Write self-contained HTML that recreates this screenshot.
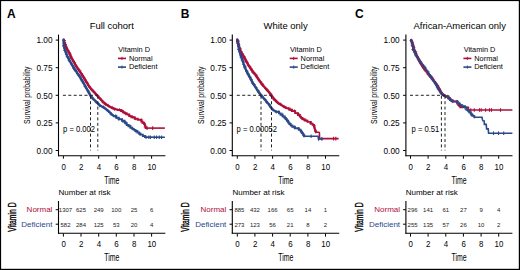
<!DOCTYPE html>
<html><head><meta charset="utf-8"><title>KM</title>
<style>html,body{margin:0;padding:0;background:#fff;width:520px;height:270px;overflow:hidden}
svg text{font-family:"Liberation Sans", sans-serif}</style></head>
<body>
<svg width="520" height="270" viewBox="0 0 520 270" style="display:block">
<rect x="0" y="0" width="520" height="270" fill="#fff"/>
<text x="7.0" y="18.0" font-size="12" font-weight="bold" fill="#000">A</text>
<text transform="translate(111.7,29.3) scale(0.965,1)" font-size="9.8" text-anchor="middle" fill="#000">Full cohort</text>
<line x1="58.5" y1="34.6" x2="58.5" y2="156.2" stroke="#000" stroke-width="1.1"/>
<line x1="58.0" y1="155.7" x2="165.4" y2="155.7" stroke="#000" stroke-width="1.1"/>
<line x1="55.7" y1="40.1" x2="58.5" y2="40.1" stroke="#000" stroke-width="1"/>
<text transform="translate(52.5,43.30) scale(0.92,1)" font-size="9" text-anchor="end" fill="#000">1.00</text>
<line x1="55.7" y1="67.7" x2="58.5" y2="67.7" stroke="#000" stroke-width="1"/>
<text transform="translate(52.5,70.90) scale(0.92,1)" font-size="9" text-anchor="end" fill="#000">0.75</text>
<line x1="55.7" y1="95.3" x2="58.5" y2="95.3" stroke="#000" stroke-width="1"/>
<text transform="translate(52.5,98.50) scale(0.92,1)" font-size="9" text-anchor="end" fill="#000">0.50</text>
<line x1="55.7" y1="122.9" x2="58.5" y2="122.9" stroke="#000" stroke-width="1"/>
<text transform="translate(52.5,126.10) scale(0.92,1)" font-size="9" text-anchor="end" fill="#000">0.25</text>
<line x1="55.7" y1="150.5" x2="58.5" y2="150.5" stroke="#000" stroke-width="1"/>
<text transform="translate(52.5,153.70) scale(0.92,1)" font-size="9" text-anchor="end" fill="#000">0.00</text>
<line x1="63.4" y1="156" x2="63.4" y2="158.7" stroke="#000" stroke-width="1"/>
<text transform="translate(63.6,169.6) scale(0.88,1)" font-size="9" text-anchor="middle" fill="#000">0</text>
<line x1="81.0" y1="156" x2="81.0" y2="158.7" stroke="#000" stroke-width="1"/>
<text transform="translate(81.2,169.6) scale(0.88,1)" font-size="9" text-anchor="middle" fill="#000">2</text>
<line x1="98.7" y1="156" x2="98.7" y2="158.7" stroke="#000" stroke-width="1"/>
<text transform="translate(98.9,169.6) scale(0.88,1)" font-size="9" text-anchor="middle" fill="#000">4</text>
<line x1="116.3" y1="156" x2="116.3" y2="158.7" stroke="#000" stroke-width="1"/>
<text transform="translate(116.5,169.6) scale(0.88,1)" font-size="9" text-anchor="middle" fill="#000">6</text>
<line x1="134.0" y1="156" x2="134.0" y2="158.7" stroke="#000" stroke-width="1"/>
<text transform="translate(134.2,169.6) scale(0.88,1)" font-size="9" text-anchor="middle" fill="#000">8</text>
<line x1="151.6" y1="156" x2="151.6" y2="158.7" stroke="#000" stroke-width="1"/>
<text transform="translate(151.8,169.6) scale(0.88,1)" font-size="9" text-anchor="middle" fill="#000">10</text>
<text transform="translate(111.9,183.6) scale(0.68,1)" font-size="10.2" text-anchor="middle" fill="#000">Time</text>
<text transform="translate(30.3,95.20) rotate(-90) scale(0.77,1)" font-size="8.9" text-anchor="middle" fill="#000">Survival probability</text>
<text x="118.3" y="51.6" font-size="7.35" fill="#000">Vitamin D</text>
<line x1="118.0" y1="58.4" x2="126.0" y2="58.4" stroke="#AD0F3A" stroke-width="1.6"/>
<line x1="122.0" y1="56.8" x2="122.0" y2="60" stroke="#AD0F3A" stroke-width="0.9"/>
<text x="128.9" y="60.6" font-size="7.35" fill="#000">Normal</text>
<line x1="118.0" y1="67.1" x2="126.0" y2="67.1" stroke="#2A4989" stroke-width="1.6"/>
<line x1="122.0" y1="65.5" x2="122.0" y2="68.7" stroke="#2A4989" stroke-width="0.9"/>
<text x="128.9" y="69.2" font-size="7.35" fill="#000">Deficient</text>
<text transform="translate(63.1,131.7) scale(0.93,1)" font-size="8.2" fill="#000">p = 0.002</text>
<polyline points="63.6,39.8 63.9,40.5 64.2,41.6 64.6,42.8 65.1,44.1 65.6,45.5 66.2,46.9 66.8,48.3 67.5,49.8 68.3,51.3 69.1,52.8 69.9,54.4 70.7,56.0 71.5,57.6 72.4,59.3 73.3,60.9 74.2,62.6 75.2,64.3 76.2,66.0 77.3,67.7 78.4,69.3 79.5,71.0 80.6,72.6 81.8,74.3 82.9,76.0 84.0,77.8 85.0,79.6 86.0,81.4 87.1,83.2 88.2,84.9 89.3,86.6 90.6,88.2 92.0,89.9 93.4,91.4 94.8,92.9 96.0,94.2 97.1,95.4 97.9,96.3 98.5,97.0 99.0,97.6 99.5,98.1 100.0,98.6 100.5,99.2 101.1,99.8 101.7,100.5 102.4,101.1 103.0,101.8 103.7,102.4 104.4,103.0 105.1,103.6 105.9,104.1 106.6,104.7 107.4,105.2 108.1,105.7 108.9,106.2 109.6,106.6 110.4,107.0 111.1,107.4 111.8,107.8 112.6,108.1 113.3,108.4 114.1,108.7 114.9,108.9 115.7,109.2 116.4,109.4 117.2,109.6 117.8,109.8" fill="none" stroke="#AD0F3A" stroke-width="2.4" stroke-linejoin="round" stroke-linecap="round"/>
<polyline points="118.3,110.0 121.0,110.0 121.0,111.0 122.8,111.0 122.8,112.2 124.5,112.2 124.5,113.2 126.7,113.2 126.7,114.4 129.3,114.4 129.3,116.1 131.3,116.1 131.3,117.3 134.7,117.3 134.7,118.8 137.7,118.8 137.7,119.8 141.3,119.8 141.3,121.6 142.4,121.6 142.4,122.8 144.1,122.8 144.1,124.0 144.8,124.0 144.8,125.3 145.2,125.3 145.2,126.4 145.7,126.4 145.7,127.9 145.8,127.9 145.8,128.1" fill="none" stroke="#AD0F3A" stroke-width="1.9" stroke-linejoin="miter" stroke-linecap="square"/>
<polyline points="145.8,128.1 164.9,128.1" fill="none" stroke="#AD0F3A" stroke-width="1.6"/>
<polyline points="63.6,39.8 63.6,40.5 63.7,41.6 63.7,42.8 63.8,44.1 63.9,45.5 64.2,46.9 64.5,48.3 65.0,49.8 65.5,51.3 66.0,52.8 66.6,54.4 67.3,56.0 68.0,57.6 68.9,59.3 69.7,60.9 70.7,62.6 71.6,64.3 72.6,66.0 73.6,67.7 74.7,69.3 75.9,71.0 77.0,72.7 78.1,74.3 79.2,76.0 80.2,77.7 81.3,79.4 82.3,81.0 83.3,82.7 84.3,84.4 85.2,86.0 86.1,87.6 86.9,89.3 87.8,90.9 88.6,92.4 89.5,94.0 90.4,95.4 91.5,96.8 92.7,98.2 93.9,99.5 95.1,100.7 96.2,101.8 97.1,102.7 97.8,103.4 98.3,103.9 98.7,104.3 99.1,104.6 99.5,104.9 100.0,105.3 100.6,105.7 101.4,106.2 102.1,106.6 102.9,107.0 103.6,107.5 104.4,108.0 105.1,108.5 105.9,109.1 106.7,109.7 107.4,110.3 108.2,111.0 108.9,111.6 109.6,112.3 110.4,112.9 111.1,113.6 111.8,114.3 112.6,115.0 113.3,115.6" fill="none" stroke="#2A4989" stroke-width="2.4" stroke-linejoin="round" stroke-linecap="round"/>
<polyline points="114.0,116.2 116.2,116.2 116.2,117.7 118.8,117.7 118.8,119.2 122.1,119.2 122.1,120.8 124.6,120.8 124.6,122.3 125.4,122.3 125.4,123.3 126.7,123.3 126.7,125.0 128.4,125.0 128.4,126.3 130.4,126.3 130.4,127.7 132.2,127.7 132.2,128.9 133.7,128.9 133.7,129.9 135.5,129.9 135.5,131.0 137.4,131.0 137.4,132.5 139.2,132.5 139.2,133.8 140.4,133.8 140.4,134.6 142.8,134.6 142.8,136.0 144.9,136.0 144.9,137.0" fill="none" stroke="#2A4989" stroke-width="1.9" stroke-linejoin="miter" stroke-linecap="square"/>
<polyline points="144.9,137.1 164.9,137.3" fill="none" stroke="#2A4989" stroke-width="1.6"/>
<path d="M62.7 40.6h3.2M64.3 39.0v3.2M63.0 43.0h3.2M64.6 41.4v3.2M63.8 44.6h3.2M65.4 43.0v3.2M64.1 46.2h3.2M65.7 44.6v3.2M65.0 48.1h3.2M66.6 46.5v3.2M66.4 50.5h3.2M68.0 48.9v3.2M67.6 52.7h3.2M69.2 51.1v3.2M68.5 54.1h3.2M70.1 52.5v3.2M69.0 56.4h3.2M70.6 54.8v3.2M70.0 58.5h3.2M71.6 56.9v3.2M71.7 61.3h3.2M73.3 59.7v3.2M72.9 62.6h3.2M74.5 61.0v3.2M73.9 65.0h3.2M75.5 63.4v3.2M74.6 66.7h3.2M76.2 65.1v3.2M76.7 69.1h3.2M78.3 67.5v3.2M78.3 70.9h3.2M79.9 69.3v3.2M79.9 73.8h3.2M81.5 72.2v3.2M80.7 75.8h3.2M82.3 74.2v3.2M82.5 78.1h3.2M84.1 76.5v3.2M83.6 80.0h3.2M85.2 78.4v3.2M85.2 82.3h3.2M86.8 80.7v3.2M85.9 83.4h3.2M87.5 81.8v3.2M86.8 85.5h3.2M88.4 83.9v3.2M88.1 87.2h3.2M89.7 85.6v3.2M90.2 89.7h3.2M91.8 88.1v3.2M92.7 92.3h3.2M94.3 90.7v3.2M94.5 94.4h3.2M96.1 92.8v3.2M96.4 96.1h3.2M98.0 94.5v3.2M99.0 99.1h3.2M100.6 97.5v3.2M101.3 102.1h3.2M102.9 100.5v3.2M103.8 104.4h3.2M105.4 102.8v3.2M106.7 105.5h3.2M108.3 103.9v3.2M110.7 107.5h3.2M112.3 105.9v3.2M112.9 109.2h3.2M114.5 107.6v3.2M117.8 109.7h3.2M119.4 108.1v3.2M120.9 111.1h3.2M122.5 109.5v3.2M124.0 113.5h3.2M125.6 111.9v3.2M127.4 115.3h3.2M129.0 113.7v3.2M130.8 116.8h3.2M132.4 115.2v3.2M133.7 118.6h3.2M135.3 117.0v3.2M140.0 120.1h3.2M141.6 118.5v3.2M142.0 123.1h3.2M143.6 121.5v3.2M143.7 127.1h3.2M145.3 125.5v3.2" stroke="#AD0F3A" stroke-width="0.8" fill="none"/>
<line x1="147.1" y1="126.3" x2="147.1" y2="129.9" stroke="#AD0F3A" stroke-width="1.1"/>
<line x1="152.7" y1="126.3" x2="152.7" y2="129.9" stroke="#AD0F3A" stroke-width="1.1"/>
<path d="M62.5 40.5h3.2M64.1 38.9v3.2M62.5 42.9h3.2M64.1 41.3v3.2M62.2 45.4h3.2M63.8 43.8v3.2M62.3 46.7h3.2M63.9 45.1v3.2M63.3 48.4h3.2M64.9 46.8v3.2M63.1 50.4h3.2M64.7 48.8v3.2M64.7 52.8h3.2M66.3 51.2v3.2M64.9 54.5h3.2M66.5 52.9v3.2M65.6 56.8h3.2M67.2 55.2v3.2M67.5 58.3h3.2M69.1 56.7v3.2M67.5 60.2h3.2M69.1 58.6v3.2M68.0 60.7h3.2M69.6 59.1v3.2M70.0 63.9h3.2M71.6 62.3v3.2M71.0 65.4h3.2M72.6 63.8v3.2M72.0 67.1h3.2M73.6 65.5v3.2M72.2 68.2h3.2M73.8 66.6v3.2M73.3 69.9h3.2M74.9 68.3v3.2M74.9 71.3h3.2M76.5 69.7v3.2M75.8 73.6h3.2M77.4 72.0v3.2M77.2 75.0h3.2M78.8 73.4v3.2M78.0 76.0h3.2M79.6 74.4v3.2M79.1 77.4h3.2M80.7 75.8v3.2M79.8 79.6h3.2M81.4 78.0v3.2M80.6 80.9h3.2M82.2 79.3v3.2M81.8 83.0h3.2M83.4 81.4v3.2M83.3 86.2h3.2M84.9 84.6v3.2M84.9 88.5h3.2M86.5 86.9v3.2M86.9 91.0h3.2M88.5 89.4v3.2M87.9 93.0h3.2M89.5 91.4v3.2M89.2 95.8h3.2M90.8 94.2v3.2M90.2 97.2h3.2M91.8 95.6v3.2M91.5 99.1h3.2M93.1 97.5v3.2M94.4 101.8h3.2M96.0 100.2v3.2M96.3 103.4h3.2M97.9 101.8v3.2M97.9 105.6h3.2M99.5 104.0v3.2M102.0 107.0h3.2M103.6 105.4v3.2M104.9 109.5h3.2M106.5 107.9v3.2M107.0 111.3h3.2M108.6 109.7v3.2M109.4 114.1h3.2M111.0 112.5v3.2M114.1 115.7h3.2M115.7 114.1v3.2M114.9 117.3h3.2M116.5 115.7v3.2M117.2 119.0h3.2M118.8 117.4v3.2M121.0 121.0h3.2M122.6 119.4v3.2M122.8 121.9h3.2M124.4 120.3v3.2M124.3 122.9h3.2M125.9 121.3v3.2M128.2 125.8h3.2M129.8 124.2v3.2M131.1 128.5h3.2M132.7 126.9v3.2M134.4 131.5h3.2M136.0 129.9v3.2M138.6 134.1h3.2M140.2 132.5v3.2" stroke="#2A4989" stroke-width="0.8" fill="none"/>
<line x1="146" y1="135.5" x2="146" y2="139.1" stroke="#2A4989" stroke-width="1.1"/>
<line x1="148.8" y1="135.5" x2="148.8" y2="139.1" stroke="#2A4989" stroke-width="1.1"/>
<line x1="150.4" y1="135.5" x2="150.4" y2="139.1" stroke="#2A4989" stroke-width="1.1"/>
<line x1="154.3" y1="135.5" x2="154.3" y2="139.1" stroke="#2A4989" stroke-width="1.1"/>
<line x1="156.6" y1="135.5" x2="156.6" y2="139.1" stroke="#2A4989" stroke-width="1.1"/>
<line x1="159.3" y1="135.5" x2="159.3" y2="139.1" stroke="#2A4989" stroke-width="1.1"/>
<line x1="161.6" y1="135.5" x2="161.6" y2="139.1" stroke="#2A4989" stroke-width="1.1"/>
<g stroke="#222" stroke-width="1" stroke-dasharray="3,2.4" fill="none">
<line x1="62.9" y1="95.3" x2="97.8" y2="95.3"/>
<line x1="90.5" y1="95.8" x2="90.5" y2="150.5"/>
<line x1="97.8" y1="95.8" x2="97.8" y2="150.5"/>
</g>
<text x="58.6" y="195.2" font-size="8" fill="#000">Number at risk</text>
<text transform="translate(15.5,217.1) rotate(-90) scale(0.68,1)" font-size="10" text-anchor="middle" fill="#000" stroke="#000" stroke-width="0.35">Vitamin D</text>
<text x="52.4" y="212.1" font-size="8" text-anchor="end" fill="#AD0F3A">Normal</text>
<text x="52.4" y="226.9" font-size="8" text-anchor="end" fill="#2A4989">Deficient</text>
<line x1="58.5" y1="201" x2="58.5" y2="233.8" stroke="#000" stroke-width="1.1"/>
<line x1="58.0" y1="233.3" x2="165.3" y2="233.3" stroke="#000" stroke-width="1.1"/>
<line x1="55.7" y1="209.7" x2="58.5" y2="209.7" stroke="#000" stroke-width="1"/>
<line x1="55.7" y1="224.2" x2="58.5" y2="224.2" stroke="#000" stroke-width="1"/>
<line x1="63.4" y1="233.5" x2="63.4" y2="236.6" stroke="#000" stroke-width="1"/>
<text transform="translate(63.6,247.1) scale(0.88,1)" font-size="9" text-anchor="middle" fill="#000">0</text>
<text x="65.5" y="211.6" font-size="6" text-anchor="middle" fill="#222">1307</text>
<text x="65.5" y="226.6" font-size="6" text-anchor="middle" fill="#222">582</text>
<line x1="81.0" y1="233.5" x2="81.0" y2="236.6" stroke="#000" stroke-width="1"/>
<text transform="translate(81.2,247.1) scale(0.88,1)" font-size="9" text-anchor="middle" fill="#000">2</text>
<text x="81.0" y="211.6" font-size="6" text-anchor="middle" fill="#222">625</text>
<text x="81.0" y="226.6" font-size="6" text-anchor="middle" fill="#222">284</text>
<line x1="98.7" y1="233.5" x2="98.7" y2="236.6" stroke="#000" stroke-width="1"/>
<text transform="translate(98.9,247.1) scale(0.88,1)" font-size="9" text-anchor="middle" fill="#000">4</text>
<text x="98.7" y="211.6" font-size="6" text-anchor="middle" fill="#222">249</text>
<text x="98.7" y="226.6" font-size="6" text-anchor="middle" fill="#222">125</text>
<line x1="116.3" y1="233.5" x2="116.3" y2="236.6" stroke="#000" stroke-width="1"/>
<text transform="translate(116.5,247.1) scale(0.88,1)" font-size="9" text-anchor="middle" fill="#000">6</text>
<text x="116.3" y="211.6" font-size="6" text-anchor="middle" fill="#222">100</text>
<text x="116.3" y="226.6" font-size="6" text-anchor="middle" fill="#222">53</text>
<line x1="134.0" y1="233.5" x2="134.0" y2="236.6" stroke="#000" stroke-width="1"/>
<text transform="translate(134.2,247.1) scale(0.88,1)" font-size="9" text-anchor="middle" fill="#000">8</text>
<text x="134.0" y="211.6" font-size="6" text-anchor="middle" fill="#222">25</text>
<text x="134.0" y="226.6" font-size="6" text-anchor="middle" fill="#222">20</text>
<line x1="151.6" y1="233.5" x2="151.6" y2="236.6" stroke="#000" stroke-width="1"/>
<text transform="translate(151.8,247.1) scale(0.88,1)" font-size="9" text-anchor="middle" fill="#000">10</text>
<text x="151.6" y="211.6" font-size="6" text-anchor="middle" fill="#222">6</text>
<text x="151.6" y="226.6" font-size="6" text-anchor="middle" fill="#222">4</text>
<text transform="translate(111.9,260.5) scale(0.68,1)" font-size="10.2" text-anchor="middle" fill="#000">Time</text>
<text x="180.7" y="18.0" font-size="12" font-weight="bold" fill="#000">B</text>
<text transform="translate(285.6,29.3) scale(0.965,1)" font-size="9.8" text-anchor="middle" fill="#000">White only</text>
<line x1="232.3" y1="34.6" x2="232.3" y2="156.2" stroke="#000" stroke-width="1.1"/>
<line x1="231.8" y1="155.7" x2="339.3" y2="155.7" stroke="#000" stroke-width="1.1"/>
<line x1="229.5" y1="40.1" x2="232.3" y2="40.1" stroke="#000" stroke-width="1"/>
<text transform="translate(226.4,43.30) scale(0.92,1)" font-size="9" text-anchor="end" fill="#000">1.00</text>
<line x1="229.5" y1="67.7" x2="232.3" y2="67.7" stroke="#000" stroke-width="1"/>
<text transform="translate(226.4,70.90) scale(0.92,1)" font-size="9" text-anchor="end" fill="#000">0.75</text>
<line x1="229.5" y1="95.3" x2="232.3" y2="95.3" stroke="#000" stroke-width="1"/>
<text transform="translate(226.4,98.50) scale(0.92,1)" font-size="9" text-anchor="end" fill="#000">0.50</text>
<line x1="229.5" y1="122.9" x2="232.3" y2="122.9" stroke="#000" stroke-width="1"/>
<text transform="translate(226.4,126.10) scale(0.92,1)" font-size="9" text-anchor="end" fill="#000">0.25</text>
<line x1="229.5" y1="150.5" x2="232.3" y2="150.5" stroke="#000" stroke-width="1"/>
<text transform="translate(226.4,153.70) scale(0.92,1)" font-size="9" text-anchor="end" fill="#000">0.00</text>
<line x1="237.3" y1="156" x2="237.3" y2="158.7" stroke="#000" stroke-width="1"/>
<text transform="translate(237.5,169.6) scale(0.88,1)" font-size="9" text-anchor="middle" fill="#000">0</text>
<line x1="254.9" y1="156" x2="254.9" y2="158.7" stroke="#000" stroke-width="1"/>
<text transform="translate(255.1,169.6) scale(0.88,1)" font-size="9" text-anchor="middle" fill="#000">2</text>
<line x1="272.6" y1="156" x2="272.6" y2="158.7" stroke="#000" stroke-width="1"/>
<text transform="translate(272.8,169.6) scale(0.88,1)" font-size="9" text-anchor="middle" fill="#000">4</text>
<line x1="290.2" y1="156" x2="290.2" y2="158.7" stroke="#000" stroke-width="1"/>
<text transform="translate(290.4,169.6) scale(0.88,1)" font-size="9" text-anchor="middle" fill="#000">6</text>
<line x1="307.9" y1="156" x2="307.9" y2="158.7" stroke="#000" stroke-width="1"/>
<text transform="translate(308.1,169.6) scale(0.88,1)" font-size="9" text-anchor="middle" fill="#000">8</text>
<line x1="325.5" y1="156" x2="325.5" y2="158.7" stroke="#000" stroke-width="1"/>
<text transform="translate(325.7,169.6) scale(0.88,1)" font-size="9" text-anchor="middle" fill="#000">10</text>
<text transform="translate(285.8,183.6) scale(0.68,1)" font-size="10.2" text-anchor="middle" fill="#000">Time</text>
<text transform="translate(204.2,95.20) rotate(-90) scale(0.77,1)" font-size="8.9" text-anchor="middle" fill="#000">Survival probability</text>
<text x="290.0" y="51.6" font-size="7.35" fill="#000">Vitamin D</text>
<line x1="289.7" y1="58.4" x2="297.7" y2="58.4" stroke="#AD0F3A" stroke-width="1.6"/>
<line x1="293.7" y1="56.8" x2="293.7" y2="60" stroke="#AD0F3A" stroke-width="0.9"/>
<text x="300.6" y="60.6" font-size="7.35" fill="#000">Normal</text>
<line x1="289.7" y1="67.1" x2="297.7" y2="67.1" stroke="#2A4989" stroke-width="1.6"/>
<line x1="293.7" y1="65.5" x2="293.7" y2="68.7" stroke="#2A4989" stroke-width="0.9"/>
<text x="300.6" y="69.2" font-size="7.35" fill="#000">Deficient</text>
<text transform="translate(236.6,131.7) scale(0.93,1)" font-size="8.2" fill="#000">p = 0.00052</text>
<polyline points="237.3,39.7 237.4,40.2 237.5,40.9 237.7,41.8 237.9,42.7 238.1,43.7 238.4,44.7 238.7,45.7 239.0,46.8 239.4,47.9 239.8,49.0 240.2,50.2 240.7,51.3 241.3,52.4 241.9,53.5 242.6,54.7 243.3,55.8 244.0,56.9 244.6,58.0 245.2,59.1 245.8,60.2 246.3,61.3 246.9,62.4 247.5,63.4 248.1,64.5 248.7,65.5 249.4,66.6 250.1,67.6 250.7,68.6 251.5,69.6 252.2,70.7 253.0,71.8 253.8,72.9 254.7,74.0 255.5,75.1 256.4,76.2 257.2,77.3 258.0,78.4 258.7,79.5 259.4,80.7 260.1,81.8 260.9,82.9 261.7,84.0 262.6,85.1 263.6,86.2 264.6,87.3 265.6,88.4 266.6,89.4 267.5,90.4 268.3,91.3 269.0,92.2 269.6,93.1 270.3,93.9 270.9,94.7 271.6,95.6 272.3,96.5 273.0,97.5 273.8,98.5 274.5,99.4 275.3,100.3 276.0,101.1 276.7,101.8 277.4,102.4 278.1,102.9 278.8,103.4 279.6,103.9 280.4,104.4 281.2,105.0 282.1,105.5 283.0,106.1 284.0,106.6 285.0,107.2 286.0,107.8" fill="none" stroke="#AD0F3A" stroke-width="2.4" stroke-linejoin="round" stroke-linecap="round"/>
<polyline points="286.0,107.8 287.1,108.4 289.6,108.4 289.6,109.8 292.0,109.8 292.0,111.1 295.2,111.1 295.2,113.1 298.0,113.1 298.0,115.0 299.8,115.0 299.8,116.6 300.9,116.6 300.9,117.9 302.4,117.9 302.4,119.1 304.7,119.1 304.7,120.6 307.5,120.6 307.5,121.9 310.8,121.9 310.8,123.6 312.6,123.6 312.6,124.9 313.9,124.9 313.9,126.6 314.4,126.6 314.4,128.3 314.9,128.3 314.9,129.9 315.3,129.9 315.3,131.0 315.8,131.0 315.8,132.2" fill="none" stroke="#AD0F3A" stroke-width="1.9" stroke-linejoin="miter" stroke-linecap="square"/>
<polyline points="315.8,132.2 318.9,132.2 319.4,132.8 319.6,138.6 338.6,138.6" fill="none" stroke="#AD0F3A" stroke-width="1.6"/>
<polyline points="237.3,39.7 237.5,41.0 237.9,42.9 238.3,45.1 238.7,47.4 239.1,49.5 239.5,51.3 239.9,52.7 240.3,53.9 240.7,55.0 241.0,55.9 241.4,56.9 241.8,58.0 242.2,59.1 242.5,60.3 242.9,61.4 243.3,62.5 243.6,63.6 244.0,64.7 244.4,65.8 244.8,66.9 245.2,67.9 245.6,68.9 246.0,69.9 246.3,70.7 246.6,71.4 246.9,72.0 247.1,72.4 247.4,72.9 247.7,73.4 248.0,74.0 248.4,74.7 248.7,75.4 249.1,76.1 249.5,76.9 250.0,77.7 250.4,78.5 250.8,79.3 251.3,80.2 251.8,81.1 252.3,82.0 252.8,83.0 253.4,84.0 254.1,85.1 254.8,86.2 255.6,87.4 256.4,88.6 257.1,89.7 257.8,90.7 258.4,91.6 258.9,92.3 259.4,93.0 259.9,93.8 260.5,94.5 261.2,95.4 262.0,96.4 263.0,97.5 264.0,98.6 265.1,99.8 266.1,101.0 267.1,102.2 268.1,103.4 269.0,104.7 269.9,106.0 270.9,107.3 271.8,108.4 272.7,109.4 273.6,110.2 274.6,110.8 275.5,111.3" fill="none" stroke="#2A4989" stroke-width="2.4" stroke-linejoin="round" stroke-linecap="round"/>
<polyline points="276.5,111.8 279.0,111.8 279.0,113.4 280.5,113.4 280.5,114.7 282.5,114.7 282.5,116.4 284.8,116.4 284.8,117.9 285.8,117.9 285.8,119.1 286.9,119.1 286.9,120.8 288.1,120.8 288.1,122.6 289.4,122.6 289.4,124.1 290.8,124.1 290.8,125.5 292.3,125.5 292.3,126.8 294.9,126.8 294.9,128.2 298.8,128.2 298.8,129.8 300.6,129.8 300.6,131.0 301.3,131.0 301.3,132.2 302.1,132.2 302.1,133.4 303.1,133.4 303.1,134.8 303.9,134.8 303.9,136.0 304.1,136.0 304.1,136.2" fill="none" stroke="#2A4989" stroke-width="1.9" stroke-linejoin="miter" stroke-linecap="square"/>
<polyline points="304.1,136.3 318.1,136.3 318.4,138.9 323.0,138.9" fill="none" stroke="#2A4989" stroke-width="1.6"/>
<path d="M235.9 41.2h3.2M237.5 39.6v3.2M236.5 41.7h3.2M238.1 40.1v3.2M236.5 43.5h3.2M238.1 41.9v3.2M236.9 45.5h3.2M238.5 43.9v3.2M238.1 48.3h3.2M239.7 46.7v3.2M238.8 49.1h3.2M240.4 47.5v3.2M239.4 51.6h3.2M241.0 50.0v3.2M240.6 53.5h3.2M242.2 51.9v3.2M241.0 54.8h3.2M242.6 53.2v3.2M242.4 56.5h3.2M244.0 54.9v3.2M242.7 57.9h3.2M244.3 56.3v3.2M243.4 59.2h3.2M245.0 57.6v3.2M244.4 60.9h3.2M246.0 59.3v3.2M245.5 62.4h3.2M247.1 60.8v3.2M246.6 65.1h3.2M248.2 63.5v3.2M248.3 66.8h3.2M249.9 65.2v3.2M249.2 68.7h3.2M250.8 67.1v3.2M250.3 70.3h3.2M251.9 68.7v3.2M251.3 72.3h3.2M252.9 70.7v3.2M252.2 72.7h3.2M253.8 71.1v3.2M254.1 74.4h3.2M255.7 72.8v3.2M255.0 76.0h3.2M256.6 74.4v3.2M255.7 77.8h3.2M257.3 76.2v3.2M257.1 79.9h3.2M258.7 78.3v3.2M259.0 81.6h3.2M260.6 80.0v3.2M260.6 84.0h3.2M262.2 82.4v3.2M261.3 85.0h3.2M262.9 83.4v3.2M264.0 88.4h3.2M265.6 86.8v3.2M265.4 90.0h3.2M267.0 88.4v3.2M267.0 91.6h3.2M268.6 90.0v3.2M269.2 94.0h3.2M270.8 92.4v3.2M269.9 96.3h3.2M271.5 94.7v3.2M271.9 99.1h3.2M273.5 97.5v3.2M274.7 101.1h3.2M276.3 99.5v3.2M276.8 103.1h3.2M278.4 101.5v3.2M279.0 104.1h3.2M280.6 102.5v3.2M282.2 106.6h3.2M283.8 105.0v3.2M284.3 107.5h3.2M285.9 105.9v3.2M286.9 108.8h3.2M288.5 107.2v3.2M289.7 110.3h3.2M291.3 108.7v3.2M292.8 110.9h3.2M294.4 109.3v3.2M295.8 113.6h3.2M297.4 112.0v3.2M297.6 114.8h3.2M299.2 113.2v3.2M299.8 117.5h3.2M301.4 115.9v3.2M301.6 119.3h3.2M303.2 117.7v3.2M304.6 120.4h3.2M306.2 118.8v3.2M309.0 123.2h3.2M310.6 121.6v3.2M312.7 125.8h3.2M314.3 124.2v3.2M314.0 131.1h3.2M315.6 129.5v3.2" stroke="#AD0F3A" stroke-width="0.8" fill="none"/>
<line x1="333.6" y1="136.8" x2="333.6" y2="140.4" stroke="#AD0F3A" stroke-width="1.1"/>
<line x1="335.8" y1="136.8" x2="335.8" y2="140.4" stroke="#AD0F3A" stroke-width="1.1"/>
<path d="M236.3 40.7h3.2M237.9 39.1v3.2M236.3 42.9h3.2M237.9 41.3v3.2M237.0 44.5h3.2M238.6 42.9v3.2M237.2 46.1h3.2M238.8 44.5v3.2M237.7 48.0h3.2M239.3 46.4v3.2M237.1 49.5h3.2M238.7 47.9v3.2M238.2 51.7h3.2M239.8 50.1v3.2M239.2 54.1h3.2M240.8 52.5v3.2M239.4 55.7h3.2M241.0 54.1v3.2M239.5 57.3h3.2M241.1 55.7v3.2M240.5 59.9h3.2M242.1 58.3v3.2M241.7 61.8h3.2M243.3 60.2v3.2M241.9 64.3h3.2M243.5 62.7v3.2M243.3 66.5h3.2M244.9 64.9v3.2M243.1 67.7h3.2M244.7 66.1v3.2M245.0 70.9h3.2M246.6 69.3v3.2M245.3 71.4h3.2M246.9 69.8v3.2M246.3 73.6h3.2M247.9 72.0v3.2M246.8 74.6h3.2M248.4 73.0v3.2M248.7 77.3h3.2M250.3 75.7v3.2M249.7 79.5h3.2M251.3 77.9v3.2M250.9 82.2h3.2M252.5 80.6v3.2M251.0 83.3h3.2M252.6 81.7v3.2M252.8 84.7h3.2M254.4 83.1v3.2M254.5 87.6h3.2M256.1 86.0v3.2M256.5 90.8h3.2M258.1 89.2v3.2M257.2 92.2h3.2M258.8 90.6v3.2M259.2 94.6h3.2M260.8 93.0v3.2M260.6 96.5h3.2M262.2 94.9v3.2M263.3 99.5h3.2M264.9 97.9v3.2M265.1 102.3h3.2M266.7 100.7v3.2M268.0 104.6h3.2M269.6 103.0v3.2M269.0 107.0h3.2M270.6 105.4v3.2M270.8 109.6h3.2M272.4 108.0v3.2M274.7 112.0h3.2M276.3 110.4v3.2M277.0 112.2h3.2M278.6 110.6v3.2M280.4 114.2h3.2M282.0 112.6v3.2M282.1 116.8h3.2M283.7 115.2v3.2M284.3 118.9h3.2M285.9 117.3v3.2M286.4 121.2h3.2M288.0 119.6v3.2M288.1 123.8h3.2M289.7 122.2v3.2M292.4 126.9h3.2M294.0 125.3v3.2M296.9 128.7h3.2M298.5 127.1v3.2M300.4 132.4h3.2M302.0 130.8v3.2M302.4 135.2h3.2M304.0 133.6v3.2" stroke="#2A4989" stroke-width="0.8" fill="none"/>
<line x1="311.1" y1="134.5" x2="311.1" y2="138.1" stroke="#2A4989" stroke-width="1.1"/>
<line x1="318.6" y1="137.1" x2="318.6" y2="140.7" stroke="#2A4989" stroke-width="1.1"/>
<line x1="321.9" y1="137.1" x2="321.9" y2="140.7" stroke="#2A4989" stroke-width="1.1"/>
<g stroke="#222" stroke-width="1" stroke-dasharray="3,2.4" fill="none">
<line x1="236.8" y1="95.3" x2="271.5" y2="95.3"/>
<line x1="261.0" y1="95.8" x2="261.0" y2="150.5"/>
<line x1="271.5" y1="95.8" x2="271.5" y2="150.5"/>
</g>
<text x="232.5" y="195.2" font-size="8" fill="#000">Number at risk</text>
<text transform="translate(189.4,217.1) rotate(-90) scale(0.68,1)" font-size="10" text-anchor="middle" fill="#000" stroke="#000" stroke-width="0.35">Vitamin D</text>
<text x="226.3" y="212.1" font-size="8" text-anchor="end" fill="#AD0F3A">Normal</text>
<text x="226.3" y="226.9" font-size="8" text-anchor="end" fill="#2A4989">Deficient</text>
<line x1="232.3" y1="201" x2="232.3" y2="233.8" stroke="#000" stroke-width="1.1"/>
<line x1="231.8" y1="233.3" x2="339.2" y2="233.3" stroke="#000" stroke-width="1.1"/>
<line x1="229.5" y1="209.7" x2="232.3" y2="209.7" stroke="#000" stroke-width="1"/>
<line x1="229.5" y1="224.2" x2="232.3" y2="224.2" stroke="#000" stroke-width="1"/>
<line x1="237.3" y1="233.5" x2="237.3" y2="236.6" stroke="#000" stroke-width="1"/>
<text transform="translate(237.5,247.1) scale(0.88,1)" font-size="9" text-anchor="middle" fill="#000">0</text>
<text x="239.4" y="211.6" font-size="6" text-anchor="middle" fill="#222">885</text>
<text x="239.4" y="226.6" font-size="6" text-anchor="middle" fill="#222">273</text>
<line x1="254.9" y1="233.5" x2="254.9" y2="236.6" stroke="#000" stroke-width="1"/>
<text transform="translate(255.1,247.1) scale(0.88,1)" font-size="9" text-anchor="middle" fill="#000">2</text>
<text x="254.9" y="211.6" font-size="6" text-anchor="middle" fill="#222">432</text>
<text x="254.9" y="226.6" font-size="6" text-anchor="middle" fill="#222">123</text>
<line x1="272.6" y1="233.5" x2="272.6" y2="236.6" stroke="#000" stroke-width="1"/>
<text transform="translate(272.8,247.1) scale(0.88,1)" font-size="9" text-anchor="middle" fill="#000">4</text>
<text x="272.6" y="211.6" font-size="6" text-anchor="middle" fill="#222">166</text>
<text x="272.6" y="226.6" font-size="6" text-anchor="middle" fill="#222">56</text>
<line x1="290.2" y1="233.5" x2="290.2" y2="236.6" stroke="#000" stroke-width="1"/>
<text transform="translate(290.4,247.1) scale(0.88,1)" font-size="9" text-anchor="middle" fill="#000">6</text>
<text x="290.2" y="211.6" font-size="6" text-anchor="middle" fill="#222">65</text>
<text x="290.2" y="226.6" font-size="6" text-anchor="middle" fill="#222">21</text>
<line x1="307.9" y1="233.5" x2="307.9" y2="236.6" stroke="#000" stroke-width="1"/>
<text transform="translate(308.1,247.1) scale(0.88,1)" font-size="9" text-anchor="middle" fill="#000">8</text>
<text x="307.9" y="211.6" font-size="6" text-anchor="middle" fill="#222">14</text>
<text x="307.9" y="226.6" font-size="6" text-anchor="middle" fill="#222">8</text>
<line x1="325.5" y1="233.5" x2="325.5" y2="236.6" stroke="#000" stroke-width="1"/>
<text transform="translate(325.7,247.1) scale(0.88,1)" font-size="9" text-anchor="middle" fill="#000">10</text>
<text x="325.5" y="211.6" font-size="6" text-anchor="middle" fill="#222">1</text>
<text x="325.5" y="226.6" font-size="6" text-anchor="middle" fill="#222">2</text>
<text transform="translate(285.8,260.5) scale(0.68,1)" font-size="10.2" text-anchor="middle" fill="#000">Time</text>
<text x="355.0" y="18.0" font-size="12" font-weight="bold" fill="#000">C</text>
<text transform="translate(459.7,29.3) scale(0.965,1)" font-size="9.8" text-anchor="middle" fill="#000">African-American only</text>
<line x1="405.9" y1="34.6" x2="405.9" y2="156.2" stroke="#000" stroke-width="1.1"/>
<line x1="405.4" y1="155.7" x2="512.5" y2="155.7" stroke="#000" stroke-width="1.1"/>
<line x1="403.1" y1="40.1" x2="405.9" y2="40.1" stroke="#000" stroke-width="1"/>
<text transform="translate(399.6,43.30) scale(0.92,1)" font-size="9" text-anchor="end" fill="#000">1.00</text>
<line x1="403.1" y1="67.7" x2="405.9" y2="67.7" stroke="#000" stroke-width="1"/>
<text transform="translate(399.6,70.90) scale(0.92,1)" font-size="9" text-anchor="end" fill="#000">0.75</text>
<line x1="403.1" y1="95.3" x2="405.9" y2="95.3" stroke="#000" stroke-width="1"/>
<text transform="translate(399.6,98.50) scale(0.92,1)" font-size="9" text-anchor="end" fill="#000">0.50</text>
<line x1="403.1" y1="122.9" x2="405.9" y2="122.9" stroke="#000" stroke-width="1"/>
<text transform="translate(399.6,126.10) scale(0.92,1)" font-size="9" text-anchor="end" fill="#000">0.25</text>
<line x1="403.1" y1="150.5" x2="405.9" y2="150.5" stroke="#000" stroke-width="1"/>
<text transform="translate(399.6,153.70) scale(0.92,1)" font-size="9" text-anchor="end" fill="#000">0.00</text>
<line x1="410.5" y1="156" x2="410.5" y2="158.7" stroke="#000" stroke-width="1"/>
<text transform="translate(410.7,169.6) scale(0.88,1)" font-size="9" text-anchor="middle" fill="#000">0</text>
<line x1="428.1" y1="156" x2="428.1" y2="158.7" stroke="#000" stroke-width="1"/>
<text transform="translate(428.3,169.6) scale(0.88,1)" font-size="9" text-anchor="middle" fill="#000">2</text>
<line x1="445.8" y1="156" x2="445.8" y2="158.7" stroke="#000" stroke-width="1"/>
<text transform="translate(446.0,169.6) scale(0.88,1)" font-size="9" text-anchor="middle" fill="#000">4</text>
<line x1="463.4" y1="156" x2="463.4" y2="158.7" stroke="#000" stroke-width="1"/>
<text transform="translate(463.6,169.6) scale(0.88,1)" font-size="9" text-anchor="middle" fill="#000">6</text>
<line x1="481.1" y1="156" x2="481.1" y2="158.7" stroke="#000" stroke-width="1"/>
<text transform="translate(481.3,169.6) scale(0.88,1)" font-size="9" text-anchor="middle" fill="#000">8</text>
<line x1="498.7" y1="156" x2="498.7" y2="158.7" stroke="#000" stroke-width="1"/>
<text transform="translate(498.9,169.6) scale(0.88,1)" font-size="9" text-anchor="middle" fill="#000">10</text>
<text transform="translate(459.0,183.6) scale(0.68,1)" font-size="10.2" text-anchor="middle" fill="#000">Time</text>
<text transform="translate(377.4,95.20) rotate(-90) scale(0.77,1)" font-size="8.9" text-anchor="middle" fill="#000">Survival probability</text>
<text x="463.7" y="51.6" font-size="7.35" fill="#000">Vitamin D</text>
<line x1="463.4" y1="58.4" x2="471.4" y2="58.4" stroke="#AD0F3A" stroke-width="1.6"/>
<line x1="467.4" y1="56.8" x2="467.4" y2="60" stroke="#AD0F3A" stroke-width="0.9"/>
<text x="474.3" y="60.6" font-size="7.35" fill="#000">Normal</text>
<line x1="463.4" y1="67.1" x2="471.4" y2="67.1" stroke="#2A4989" stroke-width="1.6"/>
<line x1="467.4" y1="65.5" x2="467.4" y2="68.7" stroke="#2A4989" stroke-width="0.9"/>
<text x="474.3" y="69.2" font-size="7.35" fill="#000">Deficient</text>
<text transform="translate(411.6,131.7) scale(0.93,1)" font-size="8.2" fill="#000">p = 0.51</text>
<polyline points="411.2,40.0 411.4,40.5 411.7,41.2 412.0,42.1 412.3,43.0 412.6,43.9 412.9,44.7 413.1,45.5 413.3,46.2 413.4,46.9 413.6,47.6 413.8,48.4 414.0,49.1 414.3,49.9 414.6,50.6 414.9,51.4 415.3,52.2 415.6,52.9 415.9,53.5 416.1,54.0 416.2,54.3 416.3,54.6 416.5,54.9 416.7,55.3 417.0,56.0 417.4,56.9 418.0,58.1 418.5,59.4 419.2,60.8 419.9,62.1 420.6,63.4 421.4,64.6 422.2,65.9 423.0,67.1 423.9,68.3 424.9,69.6 425.8,70.8 426.8,72.0 427.8,73.3 428.8,74.5 429.9,75.7 430.9,77.0 431.9,78.2 432.9,79.4 433.9,80.7 434.8,81.9 435.8,83.2 436.7,84.4 437.5,85.6 438.2,86.8 438.9,88.0 439.6,89.3 440.2,90.4 440.7,91.4 441.2,92.3 441.6,92.9 442.0,93.4 442.2,93.8 442.5,94.0 442.8,94.3 443.2,94.6 443.7,94.9 444.1,95.2 444.7,95.5 445.2,95.7 445.8,96.0" fill="none" stroke="#AD0F3A" stroke-width="2.4" stroke-linejoin="round" stroke-linecap="round"/>
<polyline points="446.3,96.4 448.4,96.4 448.4,98.3 450.0,98.3 450.0,99.6 451.1,99.6 451.1,100.4 452.7,100.4 452.7,101.4 457.3,101.4 457.3,103.4 458.6,103.4 458.6,105.1 459.7,105.1 459.7,106.4 460.4,106.4 460.4,107.3 462.2,107.3 462.2,107.3" fill="none" stroke="#AD0F3A" stroke-width="1.9" stroke-linejoin="miter" stroke-linecap="square"/>
<polyline points="462.2,107.3 468.3,107.3 468.7,110.0 512.4,110.0" fill="none" stroke="#AD0F3A" stroke-width="1.6"/>
<polyline points="411.2,40.0 411.4,40.5 411.6,41.2 411.9,42.1 412.1,43.0 412.4,43.9 412.6,44.7 412.8,45.5 412.9,46.2 413.0,46.9 413.1,47.6 413.2,48.4 413.4,49.1 413.6,49.9 413.9,50.6 414.3,51.4 414.6,52.2 414.9,52.9 415.2,53.5 415.4,54.0 415.6,54.3 415.7,54.6 415.9,54.9 416.2,55.3 416.6,56.0 417.2,56.9 418.0,58.1 418.9,59.4 419.8,60.8 420.7,62.1 421.6,63.4 422.4,64.6 423.3,65.9 424.2,67.1 425.0,68.3 425.9,69.6 426.7,70.8 427.5,72.0 428.4,73.3 429.2,74.5 430.0,75.7 430.9,77.0 431.7,78.2 432.5,79.4 433.4,80.7 434.3,81.9 435.1,83.2 435.9,84.4 436.7,85.6 437.4,86.8 438.1,88.1 438.8,89.4 439.5,90.6 440.1,91.6 440.6,92.5 441.0,93.2 441.4,93.6 441.7,94.0 442.0,94.2 442.3,94.5 442.7,94.8 443.2,95.1 443.7,95.4 444.3,95.7 444.9,96.0 445.4,96.3 446.0,96.6" fill="none" stroke="#2A4989" stroke-width="2.4" stroke-linejoin="round" stroke-linecap="round"/>
<polyline points="446.0,96.6 448.2,96.6 448.2,98.4 449.9,98.4 449.9,99.7 451.0,99.7 451.0,100.6 452.7,100.6 452.7,101.6 457.4,101.6 457.4,103.5 459.7,103.5 459.7,105.2 462.3,105.2 462.3,106.3 464.7,106.3 464.7,107.6 466.7,107.6 466.7,109.5 467.9,109.5 467.9,110.8 469.5,110.8 469.5,112.4 470.8,112.4 470.8,113.8 471.6,113.8 471.6,114.7 472.5,114.7 472.5,115.9 474.3,115.9 474.3,117.2" fill="none" stroke="#2A4989" stroke-width="1.9" stroke-linejoin="miter" stroke-linecap="square"/>
<polyline points="474.3,117.2 482.0,117.2 482.4,119.5 483.0,120.7 484.2,120.9 484.4,124.4 486.2,124.4 486.6,128.9 488.2,128.9 488.6,133.2 512.4,133.2" fill="none" stroke="#2A4989" stroke-width="1.6"/>
<path d="M409.5 40.6h3.2M411.1 39.0v3.2M410.7 42.2h3.2M412.3 40.6v3.2M411.2 44.9h3.2M412.8 43.3v3.2M411.5 46.3h3.2M413.1 44.7v3.2M412.3 47.8h3.2M413.9 46.2v3.2M412.5 50.0h3.2M414.1 48.4v3.2M414.0 51.7h3.2M415.6 50.1v3.2M414.0 53.9h3.2M415.6 52.3v3.2M414.9 55.5h3.2M416.5 53.9v3.2M416.0 57.6h3.2M417.6 56.0v3.2M416.7 59.0h3.2M418.3 57.4v3.2M418.2 61.2h3.2M419.8 59.6v3.2M419.3 63.1h3.2M420.9 61.5v3.2M420.6 64.8h3.2M422.2 63.2v3.2M421.0 66.6h3.2M422.6 65.0v3.2M422.4 68.3h3.2M424.0 66.7v3.2M423.3 70.0h3.2M424.9 68.4v3.2M425.0 71.6h3.2M426.6 70.0v3.2M426.3 74.0h3.2M427.9 72.4v3.2M428.0 76.1h3.2M429.6 74.5v3.2M430.3 77.3h3.2M431.9 75.7v3.2M431.3 79.2h3.2M432.9 77.6v3.2M433.7 82.9h3.2M435.3 81.3v3.2M436.0 85.6h3.2M437.6 84.0v3.2M437.7 89.0h3.2M439.3 87.4v3.2M439.8 92.3h3.2M441.4 90.7v3.2M441.8 95.1h3.2M443.4 93.5v3.2M445.9 96.4h3.2M447.5 94.8v3.2M448.0 98.6h3.2M449.6 97.0v3.2M450.7 100.9h3.2M452.3 99.3v3.2M454.8 101.5h3.2M456.4 99.9v3.2M457.0 105.1h3.2M458.6 103.5v3.2" stroke="#AD0F3A" stroke-width="0.8" fill="none"/>
<line x1="470.8" y1="108.2" x2="470.8" y2="111.8" stroke="#AD0F3A" stroke-width="1.1"/>
<line x1="474.3" y1="108.2" x2="474.3" y2="111.8" stroke="#AD0F3A" stroke-width="1.1"/>
<line x1="479.5" y1="108.2" x2="479.5" y2="111.8" stroke="#AD0F3A" stroke-width="1.1"/>
<line x1="481.2" y1="108.2" x2="481.2" y2="111.8" stroke="#AD0F3A" stroke-width="1.1"/>
<line x1="485.6" y1="108.2" x2="485.6" y2="111.8" stroke="#AD0F3A" stroke-width="1.1"/>
<line x1="489.5" y1="108.2" x2="489.5" y2="111.8" stroke="#AD0F3A" stroke-width="1.1"/>
<line x1="491.5" y1="108.2" x2="491.5" y2="111.8" stroke="#AD0F3A" stroke-width="1.1"/>
<line x1="500.5" y1="108.2" x2="500.5" y2="111.8" stroke="#AD0F3A" stroke-width="1.1"/>
<path d="M409.9 40.8h3.2M411.5 39.2v3.2M410.7 43.3h3.2M412.3 41.7v3.2M410.7 45.4h3.2M412.3 43.8v3.2M411.7 46.4h3.2M413.3 44.8v3.2M411.3 49.5h3.2M412.9 47.9v3.2M412.3 50.2h3.2M413.9 48.6v3.2M413.3 52.4h3.2M414.9 50.8v3.2M414.1 53.4h3.2M415.7 51.8v3.2M414.5 55.7h3.2M416.1 54.1v3.2M415.8 56.8h3.2M417.4 55.2v3.2M416.9 58.8h3.2M418.5 57.2v3.2M417.7 60.4h3.2M419.3 58.8v3.2M418.6 61.9h3.2M420.2 60.3v3.2M419.9 64.1h3.2M421.5 62.5v3.2M422.2 66.1h3.2M423.8 64.5v3.2M423.5 67.7h3.2M425.1 66.1v3.2M424.3 69.8h3.2M425.9 68.2v3.2M426.5 71.9h3.2M428.1 70.3v3.2M427.9 74.7h3.2M429.5 73.1v3.2M428.9 76.0h3.2M430.5 74.4v3.2M429.5 77.3h3.2M431.1 75.7v3.2M430.6 79.0h3.2M432.2 77.4v3.2M432.9 81.6h3.2M434.5 80.0v3.2M434.2 83.8h3.2M435.8 82.2v3.2M435.2 85.5h3.2M436.8 83.9v3.2M435.7 87.1h3.2M437.3 85.5v3.2M436.6 89.0h3.2M438.2 87.4v3.2M438.8 91.9h3.2M440.4 90.3v3.2M440.7 94.2h3.2M442.3 92.6v3.2M443.4 95.7h3.2M445.0 94.1v3.2M446.8 97.0h3.2M448.4 95.4v3.2M448.0 99.3h3.2M449.6 97.7v3.2M449.9 100.5h3.2M451.5 98.9v3.2M451.2 101.5h3.2M452.8 99.9v3.2M456.0 101.6h3.2M457.6 100.0v3.2M457.7 103.8h3.2M459.3 102.2v3.2M459.9 105.5h3.2M461.5 103.9v3.2M463.6 106.8h3.2M465.2 105.2v3.2M464.6 109.4h3.2M466.2 107.8v3.2M467.7 112.0h3.2M469.3 110.4v3.2M470.3 115.1h3.2M471.9 113.5v3.2" stroke="#2A4989" stroke-width="0.8" fill="none"/>
<line x1="493.5" y1="131.4" x2="493.5" y2="135.0" stroke="#2A4989" stroke-width="1.1"/>
<line x1="498.5" y1="131.4" x2="498.5" y2="135.0" stroke="#2A4989" stroke-width="1.1"/>
<line x1="503.7" y1="131.4" x2="503.7" y2="135.0" stroke="#2A4989" stroke-width="1.1"/>
<g stroke="#222" stroke-width="1" stroke-dasharray="3,2.4" fill="none">
<line x1="410.0" y1="95.3" x2="445.0" y2="95.3"/>
<line x1="441.4" y1="95.8" x2="441.4" y2="150.5"/>
<line x1="445.0" y1="95.8" x2="445.0" y2="150.5"/>
</g>
<text x="405.7" y="195.2" font-size="8" fill="#000">Number at risk</text>
<text transform="translate(362.6,217.1) rotate(-90) scale(0.68,1)" font-size="10" text-anchor="middle" fill="#000" stroke="#000" stroke-width="0.35">Vitamin D</text>
<text x="400.1" y="212.1" font-size="8" text-anchor="end" fill="#AD0F3A">Normal</text>
<text x="400.1" y="226.9" font-size="8" text-anchor="end" fill="#2A4989">Deficient</text>
<line x1="405.9" y1="201" x2="405.9" y2="233.8" stroke="#000" stroke-width="1.1"/>
<line x1="405.4" y1="233.3" x2="512.4" y2="233.3" stroke="#000" stroke-width="1.1"/>
<line x1="403.1" y1="209.7" x2="405.9" y2="209.7" stroke="#000" stroke-width="1"/>
<line x1="403.1" y1="224.2" x2="405.9" y2="224.2" stroke="#000" stroke-width="1"/>
<line x1="410.5" y1="233.5" x2="410.5" y2="236.6" stroke="#000" stroke-width="1"/>
<text transform="translate(410.7,247.1) scale(0.88,1)" font-size="9" text-anchor="middle" fill="#000">0</text>
<text x="412.6" y="211.6" font-size="6" text-anchor="middle" fill="#222">296</text>
<text x="412.6" y="226.6" font-size="6" text-anchor="middle" fill="#222">255</text>
<line x1="428.1" y1="233.5" x2="428.1" y2="236.6" stroke="#000" stroke-width="1"/>
<text transform="translate(428.3,247.1) scale(0.88,1)" font-size="9" text-anchor="middle" fill="#000">2</text>
<text x="428.1" y="211.6" font-size="6" text-anchor="middle" fill="#222">141</text>
<text x="428.1" y="226.6" font-size="6" text-anchor="middle" fill="#222">135</text>
<line x1="445.8" y1="233.5" x2="445.8" y2="236.6" stroke="#000" stroke-width="1"/>
<text transform="translate(446.0,247.1) scale(0.88,1)" font-size="9" text-anchor="middle" fill="#000">4</text>
<text x="445.8" y="211.6" font-size="6" text-anchor="middle" fill="#222">61</text>
<text x="445.8" y="226.6" font-size="6" text-anchor="middle" fill="#222">57</text>
<line x1="463.4" y1="233.5" x2="463.4" y2="236.6" stroke="#000" stroke-width="1"/>
<text transform="translate(463.6,247.1) scale(0.88,1)" font-size="9" text-anchor="middle" fill="#000">6</text>
<text x="463.4" y="211.6" font-size="6" text-anchor="middle" fill="#222">27</text>
<text x="463.4" y="226.6" font-size="6" text-anchor="middle" fill="#222">26</text>
<line x1="481.1" y1="233.5" x2="481.1" y2="236.6" stroke="#000" stroke-width="1"/>
<text transform="translate(481.3,247.1) scale(0.88,1)" font-size="9" text-anchor="middle" fill="#000">8</text>
<text x="481.1" y="211.6" font-size="6" text-anchor="middle" fill="#222">9</text>
<text x="481.1" y="226.6" font-size="6" text-anchor="middle" fill="#222">10</text>
<line x1="498.7" y1="233.5" x2="498.7" y2="236.6" stroke="#000" stroke-width="1"/>
<text transform="translate(498.9,247.1) scale(0.88,1)" font-size="9" text-anchor="middle" fill="#000">10</text>
<text x="498.7" y="211.6" font-size="6" text-anchor="middle" fill="#222">4</text>
<text x="498.7" y="226.6" font-size="6" text-anchor="middle" fill="#222">2</text>
<text transform="translate(459.0,260.5) scale(0.68,1)" font-size="10.2" text-anchor="middle" fill="#000">Time</text>
<rect x="0" y="0" width="520" height="1.1" fill="#000"/>
<rect x="0" y="0" width="1.1" height="270" fill="#000"/>
<rect x="518.8" y="0" width="1.2" height="270" fill="#000"/>
<rect x="0" y="268.8" width="520" height="1.2" fill="#000"/>
</svg>
</body></html>
